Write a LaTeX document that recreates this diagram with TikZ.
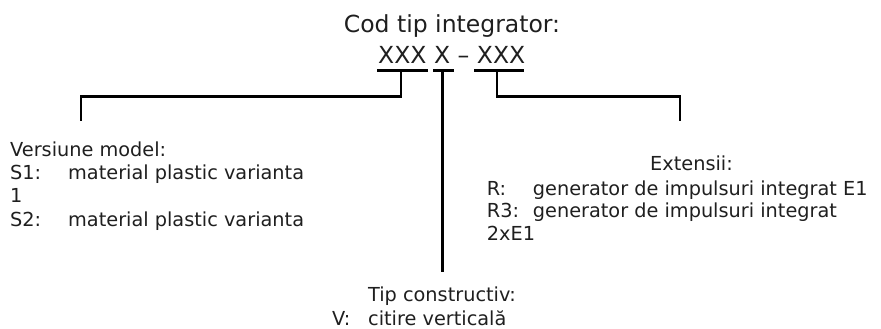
\documentclass[tikz,border=0pt]{standalone}
\usepackage{fontspec}
\setmainfont{DejaVu Sans}
\begin{document}
\begin{tikzpicture}[x=1pt,y=-1pt,
  txt/.style={anchor=base west, inner sep=0pt, font=\fontsize{19.3pt}{23pt}\selectfont, text=black!88},
  big/.style={anchor=base west, inner sep=0pt, font=\fontsize{23.5pt}{28pt}\selectfont, text=black!88},
  conn/.style={line width=2.6pt, line join=miter, line cap=butt}]
\useasboundingbox (0,0) rectangle (881,329);

% title and code
\node[big, anchor=base] (title) at (452,32.7) {Cod tip integrator:};
\node[big] (xa) at (378,63.3) {XXX};
\node[big] (xb) at (434,63.3) {X};
\node[big] (dash) at (457.5,63.3) {–};
\node[big] (xc) at (476.7,63.3) {XXX};

% connector points
\coordinate (ua1) at (377,70.7);
\coordinate (ua2) at (428,70.7);
\coordinate (sa) at (401,70.7);
\coordinate (ca) at (401,96.5);
\coordinate (cl) at (81,96.5);
\coordinate (el) at (81,121);

\coordinate (ub1) at (433,70.7);
\coordinate (ub2) at (454,70.7);
\coordinate (sb) at (442.7,70.7);
\coordinate (eb) at (442.7,271.7);

\coordinate (uc1) at (474,70.7);
\coordinate (uc2) at (524,70.7);
\coordinate (sc) at (497,70.7);
\coordinate (cc) at (497,96.5);
\coordinate (cr) at (680,96.5);
\coordinate (er) at (680,121);

\draw[conn] (ua1) -- (ua2);
\draw[conn] (sa) -- (ca) -- (cl) -- (el);
\draw[conn] (ub1) -- (ub2);
\draw[conn] (sb) -- (eb);
\draw[conn] (uc1) -- (uc2);
\draw[conn] (sc) -- (cc) -- (cr) -- (er);

% left block
\node[txt] (vm) at (10,156) {Versiune model:};
\node[txt] (s1) at (10,179) {S1:};
\node[txt] (s1t) at (68,179) {material plastic varianta};
\node[txt] (s1b) at (10,202.5) {1};
\node[txt] (s2) at (10,226) {S2:};
\node[txt] (s2t) at (68,226) {material plastic varianta};

% right block
\node[txt] (ext) at (650,170) {Extensii:};
\node[txt] (r) at (486.7,195) {R:};
\node[txt] (rt) at (532.7,195) {generator de impulsuri integrat E1};
\node[txt] (r3) at (486.7,217.5) {R3:};
\node[txt] (r3t) at (532.7,217.5) {generator de impulsuri integrat};
\node[txt] (r3b) at (486.7,240) {2xE1};

% bottom block
\node[txt, anchor=base] (tc) at (442,301.7) {Tip constructiv:};
\node[txt] (v) at (332,325) {V:};
\node[txt] (vt) at (368,325) {citire verticală};
\end{tikzpicture}
\end{document}
